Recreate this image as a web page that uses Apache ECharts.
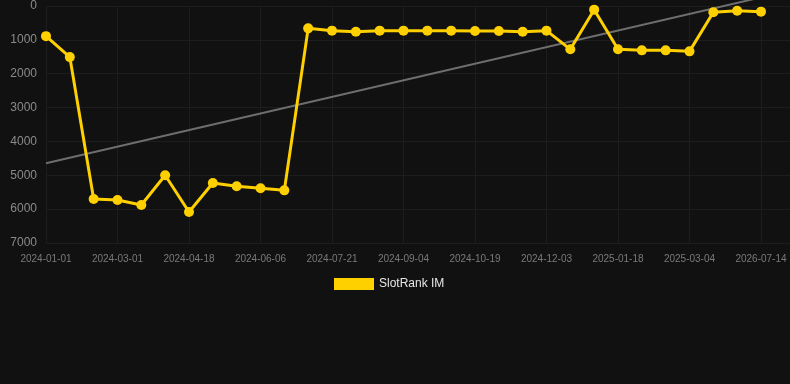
<!DOCTYPE html>
<html>
<head>
<meta charset="utf-8">
<script src="https://cdn.jsdelivr.net/npm/echarts@6/dist/echarts.min.js"></script>
<style>
html,body{margin:0;padding:0;background:#111111;}
#chart{width:790px;height:384px;}
</style>
</head>
<body>
<div id="chart"></div>
<script>
var dates = ['2024-01-01','2024-01-21','2024-02-10','2024-03-01','2024-03-17','2024-04-02','2024-04-18','2024-05-04','2024-05-20','2024-06-06','2024-06-21','2024-07-06','2024-07-21','2024-08-05','2024-08-20','2024-09-04','2024-09-19','2024-10-04','2024-10-19','2024-11-03','2024-11-18','2024-12-03','2024-12-18','2025-01-03','2025-01-18','2025-02-02','2025-02-17','2025-03-04','2025-03-19','2025-04-03','2026-07-14'];
var ranks = [890,1510,5700,5730,5877,5000,6085,5228,5325,5385,5445,660,728,758,728,728,728,728,738,738,758,728,1280,108,1280,1310,1310,1340,187,138,167];
var trendStart = 4645;
var trendEnd = -255;
var yTicks = [0,1000,2000,3000,4000,5000,6000,7000];
var seriesName = 'SlotRank IM';

var chart = echarts.init(document.getElementById('chart'));
var lastIdx = dates.length - 1;
chart.setOption({
  backgroundColor: '#111111',
  animation: false,
  grid: {left: 46, right: 0, top: 6, bottom: 141},
  legend: {
    data: [seriesName],
    top: 273,
    left: 329,
    icon: 'rect',
    itemWidth: 40,
    itemHeight: 12,
    itemGap: 5,
    textStyle: {color: '#e6e6e6', fontSize: 12, fontFamily: 'Liberation Sans, Arial, sans-serif'}
  },
  xAxis: {
    type: 'value',
    min: 0,
    max: lastIdx + 29 / ((744 - 29) / lastIdx),
    interval: 3,
    axisLine: {show: false},
    axisTick: {show: false},
    splitLine: {show: true, lineStyle: {color: '#1d1d1d', width: 1}},
    axisLabel: {
      color: '#7a7a7a',
      fontSize: 10,
      margin: 11,
      fontFamily: 'Liberation Sans, Arial, sans-serif',
      showMaxLabel: false,
      formatter: function (v) { return Number.isInteger(v) && dates[v] ? dates[v] : ''; }
    }
  },
  yAxis: {
    type: 'value',
    inverse: true,
    min: yTicks[0],
    max: yTicks[yTicks.length - 1],
    interval: yTicks[1] - yTicks[0],
    axisLine: {show: false},
    axisTick: {show: false},
    splitLine: {show: true, lineStyle: {color: '#1d1d1d', width: 1}},
    axisLabel: {
      color: '#8a8a8a', fontSize: 12, margin: 9,
      fontFamily: 'Liberation Sans, Arial, sans-serif',
      formatter: function (v) { return String(v); }
    }
  },
  series: [
    {
      name: 'trend',
      type: 'line',
      clip: false,
      silent: true,
      symbol: 'none',
      data: [[0, trendStart], [lastIdx, trendEnd]],
      lineStyle: {color: '#6e6e6e', width: 2},
      z: 1
    },
    {
      name: seriesName,
      type: 'line',
      data: ranks.map(function (v, i) { return [i, v]; }),
      symbol: 'circle',
      symbolSize: 10,
      itemStyle: {color: '#ffd000'},
      lineStyle: {color: '#ffd000', width: 3},
      z: 3
    }
  ]
});
</script>
</body>
</html>
